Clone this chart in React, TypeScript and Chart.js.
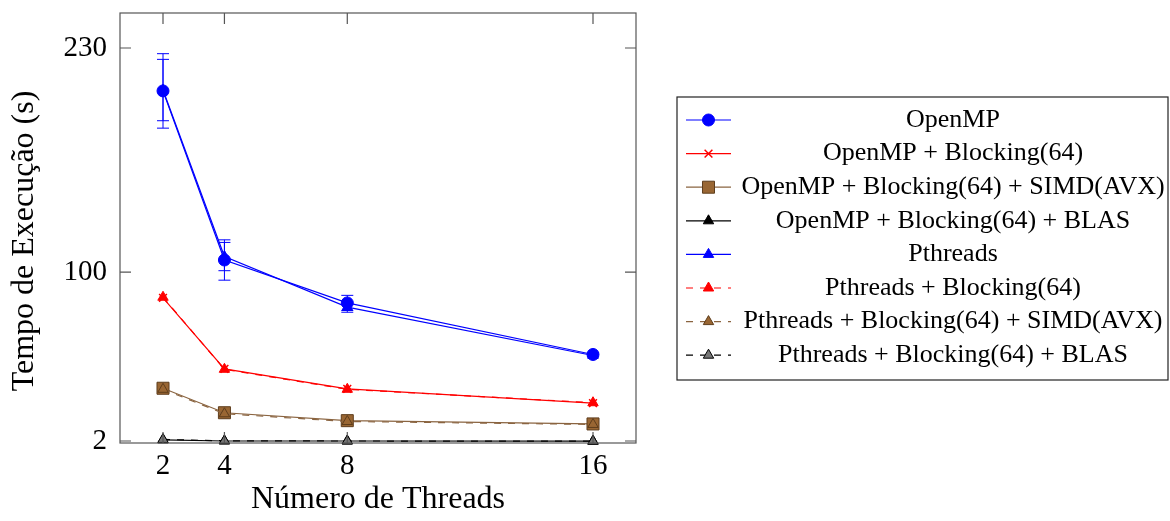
import { useEffect, useRef } from 'react';
import { Chart, registerables } from 'chart.js';
import { drawPoint } from 'chart.js/helpers';

Chart.register(...registerables);

// ---- data ----
const threads = [2, 4, 8, 16];
const xTicks = [2, 4, 8, 16];
const yTicks = [2, 100, 230];

const openmp = [205.1, 107.0, 82.1, 52.2];
const openmpErr = [21.6, 11.7, 4.4, 1.0];
const openmpBlocking = [85.0, 43.8, 32.2, 24.0];
const openmpSimd = [32.6, 18.4, 13.8, 11.9];
const openmpBlas = [2.6, 2.0, 2.0, 1.9];

const pthreads = [205.6, 109.0, 79.7, 51.6];
const pthreadsErr = [17.8, 8.2, 3.0, 0.8];
const pthreadsBlocking = [85.4, 43.6, 32.0, 24.2];
const pthreadsSimd = [32.0, 17.8, 13.3, 11.6];
const pthreadsBlas = [2.9, 2.1, 2.0, 1.9];

const seriesLabels = [
  'OpenMP',
  'OpenMP + Blocking(64)',
  'OpenMP + Blocking(64) + SIMD(AVX)',
  'OpenMP + Blocking(64) + BLAS',
  'Pthreads',
  'Pthreads + Blocking(64)',
  'Pthreads + Blocking(64) + SIMD(AVX)',
  'Pthreads + Blocking(64) + BLAS',
];

const xTitle = 'Número de Threads';
const yTitle = 'Tempo de Execução (s)';

const FONT = '"Liberation Serif", "Times New Roman", serif';
const BLUE = '#0000ff';
const RED = '#ff0000';
const BROWN_LINE = '#8a6440';
const BROWN_FILL = '#996633';
const BROWN_EDGE = '#5e3d1c';
const DASH = [7, 7];

const decorPlugin = {
  id: 'decor',
  beforeDatasetsDraw(chart: any) {
    const ctx = chart.ctx;
    const xs = chart.scales.x;
    const ys = chart.scales.y;
    chart.data.datasets.forEach((ds: any) => {
      if (!ds.errorBars) return;
      ctx.save();
      ctx.strokeStyle = ds.borderColor;
      ctx.lineWidth = 1;
      ds.data.forEach((p: any, i: number) => {
        const e = ds.errorBars[i];
        const px = xs.getPixelForValue(p.x);
        const y1 = ys.getPixelForValue(p.y + e);
        const y2 = ys.getPixelForValue(p.y - e);
        ctx.beginPath();
        ctx.moveTo(px, y1);
        ctx.lineTo(px, y2);
        ctx.moveTo(px - 6, y1);
        ctx.lineTo(px + 6, y1);
        ctx.moveTo(px - 6, y2);
        ctx.lineTo(px + 6, y2);
        ctx.stroke();
      });
      ctx.restore();
    });
  },
  afterDraw(chart: any) {
    const ctx = chart.ctx;
    const { left, right, top, bottom } = chart.chartArea;
    const xs = chart.scales.x;
    const ys = chart.scales.y;
    ctx.save();
    // frame
    ctx.strokeStyle = '#555';
    ctx.lineWidth = 1.2;
    ctx.strokeRect(left, top, right - left, bottom - top);
    // inward ticks
    const tl = 11;
    ctx.beginPath();
    xTicks.forEach((v) => {
      const px = xs.getPixelForValue(v);
      ctx.moveTo(px, bottom);
      ctx.lineTo(px, bottom - tl);
      ctx.moveTo(px, top);
      ctx.lineTo(px, top + tl);
    });
    yTicks.forEach((v) => {
      const py = ys.getPixelForValue(v);
      ctx.moveTo(left, py);
      ctx.lineTo(left + tl, py);
      ctx.moveTo(right, py);
      ctx.lineTo(right - tl, py);
    });
    ctx.stroke();

    // axis titles
    ctx.fillStyle = '#000';
    ctx.font = `32px ${FONT}`;
    ctx.textAlign = 'center';
    ctx.textBaseline = 'middle';
    ctx.fillText(xTitle, (left + right) / 2, 500);
    ctx.save();
    ctx.translate(25, 241);
    ctx.rotate(-Math.PI / 2);
    ctx.fillText(yTitle, 0, 0);
    ctx.restore();

    // legend
    const bx = 677, by = 97, bw = 491, bh = 283;
    ctx.fillStyle = '#fff';
    ctx.fillRect(bx, by, bw, bh);
    ctx.strokeStyle = '#222';
    ctx.lineWidth = 1.2;
    ctx.strokeRect(bx, by, bw, bh);
    ctx.font = `26px ${FONT}`;
    chart.data.datasets.forEach((ds: any, i: number) => {
      const ry = 120 + i * 33.6;
      ctx.save();
      ctx.strokeStyle = ds.borderColor;
      ctx.lineWidth = ds.borderWidth;
      ctx.setLineDash(ds.borderDash || []);
      ctx.beginPath();
      ctx.moveTo(686, ry);
      ctx.lineTo(731, ry);
      ctx.stroke();
      ctx.setLineDash([]);
      ctx.fillStyle = ds.pointBackgroundColor;
      ctx.strokeStyle = ds.pointBorderColor;
      ctx.lineWidth = ds.pointBorderWidth;
      drawPoint(ctx, {
        pointStyle: ds.pointStyle,
        rotation: 0,
        radius: ds.pointRadius,
        borderWidth: ds.pointBorderWidth,
      } as any, 708.5, ry);
      ctx.restore();
      ctx.fillStyle = '#000';
      ctx.textAlign = 'center';
      ctx.textBaseline = 'middle';
      ctx.fillText(ds.label, 953, ry);
    });
    ctx.restore();
  },
};

export default function App() {
  const ref = useRef<HTMLCanvasElement>(null);

  useEffect(() => {
    if (!ref.current) return;
    const mk = (vals: number[]) => threads.map((x, i) => ({ x, y: vals[i] }));
    const base = [
      { data: mk(openmp), color: BLUE, fill: BLUE, edge: BLUE, style: 'circle', r: 6, bw: 1, dash: [], err: openmpErr },
      { data: mk(openmpBlocking), color: RED, fill: RED, edge: RED, style: 'crossRot', r: 5.5, bw: 1.5, dash: [] },
      { data: mk(openmpSimd), color: BROWN_LINE, fill: BROWN_FILL, edge: BROWN_EDGE, style: 'rect', r: 8.5, bw: 1, dash: [] },
      { data: mk(openmpBlas), color: '#000', fill: '#000', edge: '#000', style: 'triangle', r: 6, bw: 1, dash: [] },
      { data: mk(pthreads), color: BLUE, fill: BLUE, edge: BLUE, style: 'triangle', r: 6, bw: 1, dash: [], err: pthreadsErr },
      { data: mk(pthreadsBlocking), color: RED, fill: RED, edge: RED, style: 'triangle', r: 6, bw: 1, dash: DASH },
      { data: mk(pthreadsSimd), color: BROWN_LINE, fill: BROWN_FILL, edge: BROWN_EDGE, style: 'triangle', r: 6, bw: 1, dash: DASH },
      { data: mk(pthreadsBlas), color: '#000', fill: '#777', edge: '#000', style: 'triangle', r: 6, bw: 1, dash: DASH },
    ];
    const datasets = base.map((b, i) => ({
      label: seriesLabels[i],
      data: b.data,
      borderColor: b.color,
      backgroundColor: b.fill,
      pointBackgroundColor: b.fill,
      pointBorderColor: b.edge,
      pointBorderWidth: b.bw,
      pointStyle: b.style,
      pointRadius: b.r,
      borderWidth: 1.2,
      borderDash: b.dash,
      tension: 0,
      fill: false,
      clip: false as any,
      order: 10 - i,
      errorBars: (b as any).err,
    }));

    const noPad = (s: any) => {
      s.paddingTop = 0;
      s.paddingBottom = 0;
      s.paddingLeft = 0;
      s.paddingRight = 0;
    };

    const chart = new Chart(ref.current, {
      type: 'line',
      data: { datasets } as any,
      options: {
        animation: false,
        responsive: false,
        devicePixelRatio: 1,
        layout: { padding: { top: 13, right: 534, left: 0, bottom: 0 } },
        plugins: { legend: { display: false }, tooltip: { enabled: false } },
        scales: {
          x: {
            type: 'linear',
            min: 0.6,
            max: 17.4,
            grid: { display: false, drawTicks: false },
            border: { display: false },
            afterBuildTicks: (s: any) => { s.ticks = xTicks.map((v) => ({ value: v })); },
            afterFit: (s: any) => { s.height = 78; noPad(s); },
            ticks: { font: { family: FONT, size: 29 }, color: '#000', padding: 6, maxRotation: 0, autoSkip: false },
          },
          y: {
            type: 'linear',
            min: 0.84,
            max: 250.3,
            grid: { display: false, drawTicks: false },
            border: { display: false },
            afterBuildTicks: (s: any) => { s.ticks = yTicks.map((v) => ({ value: v })); },
            afterFit: (s: any) => { s.width = 120; noPad(s); },
            ticks: { font: { family: FONT, size: 29 }, color: '#000', padding: 13, autoSkip: false },
          },
        },
      } as any,
      plugins: [decorPlugin],
    });
    return () => chart.destroy();
  }, []);

  return (
    <div style={{ position: 'fixed', left: 0, top: 0, width: 1170, height: 521, background: '#fff' }}>
      <canvas ref={ref} width={1170} height={521} style={{ display: 'block' }} />
    </div>
  );
}
